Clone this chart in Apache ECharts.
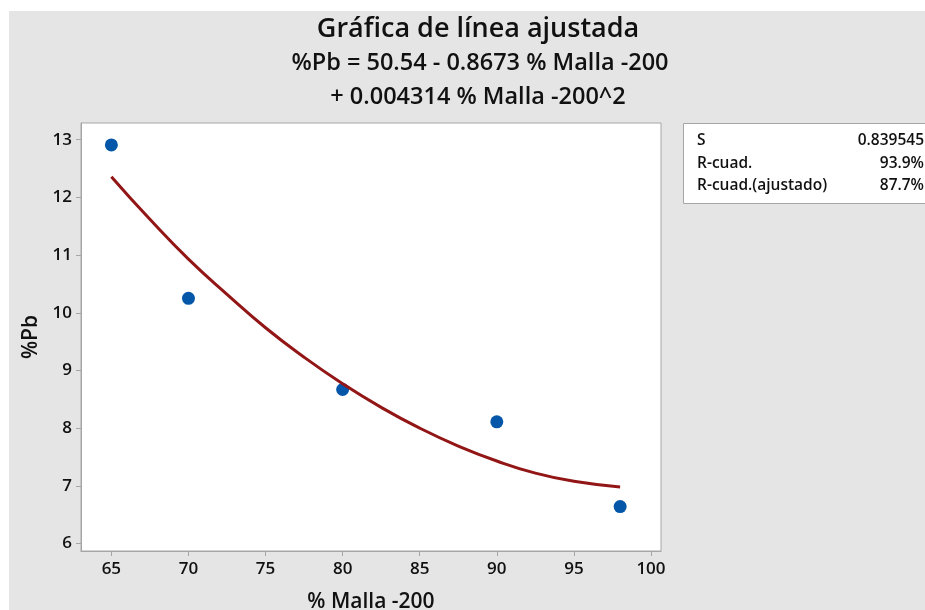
<!DOCTYPE html>
<html>
<head>
<meta charset="utf-8">
<script src="https://cdn.jsdelivr.net/npm/echarts@6/dist/echarts.min.js"></script>
<style>
  html, body { margin: 0; padding: 0; background: #fff; }
  #chart { width: 925px; height: 610px; }
</style>
</head>
<body>
<div id="chart"></div>
<script>
// datos observados (% Malla -200, %Pb)
const mallaObs = [65, 70, 80, 90, 98]
const pbObs = [12.91, 10.25, 8.67, 8.11, 6.64]
// línea ajustada
const mallaFit = [65, 67.5, 70, 72.5, 75, 77.5, 80, 82.5, 85, 87.5, 90, 92.5, 95, 98]
const pbFit = [12.36, 11.62, 10.93, 10.32, 9.74, 9.23, 8.77, 8.36, 8.0, 7.69, 7.43, 7.22, 7.08, 6.98]
// marcas de los ejes
const xTicks = [65, 70, 75, 80, 85, 90, 95, 100]
const yTicks = [6, 7, 8, 9, 10, 11, 12, 13]
// resumen del modelo
const statNames = ['S', 'R-cuad.', 'R-cuad.(ajustado)']
const statValues = ['0.839545', '93.9%', '87.7%']

const FONT = '"Open Sans", "Noto Sans", sans-serif'
const myChart = echarts.init(document.getElementById('chart'))

// textos del cuadro de resumen
const statTexts = []
statNames.forEach((name, i) => {
    statTexts.push({
        type: 'text', z: 10, x: 697, y: 141 + i * 22.5,
        style: { text: name, font: '600 15.5px ' + FONT, fill: '#111', verticalAlign: 'middle' }
    })
    statTexts.push({
        type: 'text', z: 10, x: 924, y: 141 + i * 22.5,
        style: { text: statValues[i], font: '600 15.5px ' + FONT, fill: '#111', align: 'right', verticalAlign: 'middle' }
    })
})

const axisFont = { fontFamily: FONT, fontWeight: 600, color: '#111' }
const nameFont = { fontFamily: FONT, fontWeight: 600, fontSize: 21, color: '#111' }

const option = {
    animation: false,
    backgroundColor: '#fff',
    graphic: [
        { type: 'rect', z: -10, shape: { x: 9, y: 11, width: 925, height: 610 }, style: { fill: '#e5e5e5' } },
        { type: 'rect', z: 5, shape: { x: 683.5, y: 123.5, width: 260, height: 80 }, style: { fill: '#fff', stroke: '#a6a6a6', lineWidth: 1 } }
    ].concat(statTexts),
    title: [
        { text: 'Gráfica de línea ajustada', left: 473, top: 11, textAlign: 'center',
          textStyle: { fontFamily: FONT, fontWeight: 600, fontSize: 27, color: '#111' } },
        { text: '%Pb = 50.54 - 0.8673 % Malla -200', left: 475, top: 46, textAlign: 'center',
          textStyle: { fontFamily: FONT, fontWeight: 600, fontSize: 23.5, color: '#111' } },
        { text: '+ 0.004314 % Malla -200^2', left: 473, top: 80, textAlign: 'center',
          textStyle: { fontFamily: FONT, fontWeight: 600, fontSize: 23.5, color: '#111' } }
    ],
    grid: {
        left: 81, top: 123, right: 264, bottom: 59,
        outerBoundsMode: 'none',
        show: true, backgroundColor: '#fff', borderColor: '#a6a6a6', borderWidth: 1
    },
    xAxis: {
        type: 'value', min: 63.03, max: 100.65,
        name: '% Malla -200', nameLocation: 'middle', nameGap: 41,
        nameTextStyle: nameFont,
        axisLine: { show: true, lineStyle: { color: '#a6a6a6' } },
        axisTick: { show: true, length: 5, customValues: xTicks, lineStyle: { color: '#a6a6a6' } },
        axisLabel: Object.assign({ fontSize: 17, margin: 10, customValues: xTicks }, axisFont),
        splitLine: { show: false }
    },
    yAxis: {
        type: 'value', min: 5.87, max: 13.29,
        name: '%Pb', nameLocation: 'middle', nameGap: 35, nameRotate: 90,
        nameTextStyle: nameFont,
        axisLine: { show: true, lineStyle: { color: '#a6a6a6' } },
        axisTick: { show: true, length: 5, customValues: yTicks, lineStyle: { color: '#a6a6a6' } },
        axisLabel: Object.assign({ fontSize: 17, margin: 9, customValues: yTicks }, axisFont),
        splitLine: { show: false }
    },
    series: [
        {
            name: 'Ajuste', type: 'line', smooth: true, showSymbol: false,
            lineStyle: { color: '#921616', width: 3 },
            data: mallaFit.map((x, i) => [x, pbFit[i]])
        },
        {
            name: 'Datos', type: 'scatter', symbolSize: 13,
            itemStyle: { color: '#0457a8', opacity: 1 },
            data: mallaObs.map((x, i) => [x, pbObs[i]])
        }
    ]
}
myChart.setOption(option)
</script>
</body>
</html>
